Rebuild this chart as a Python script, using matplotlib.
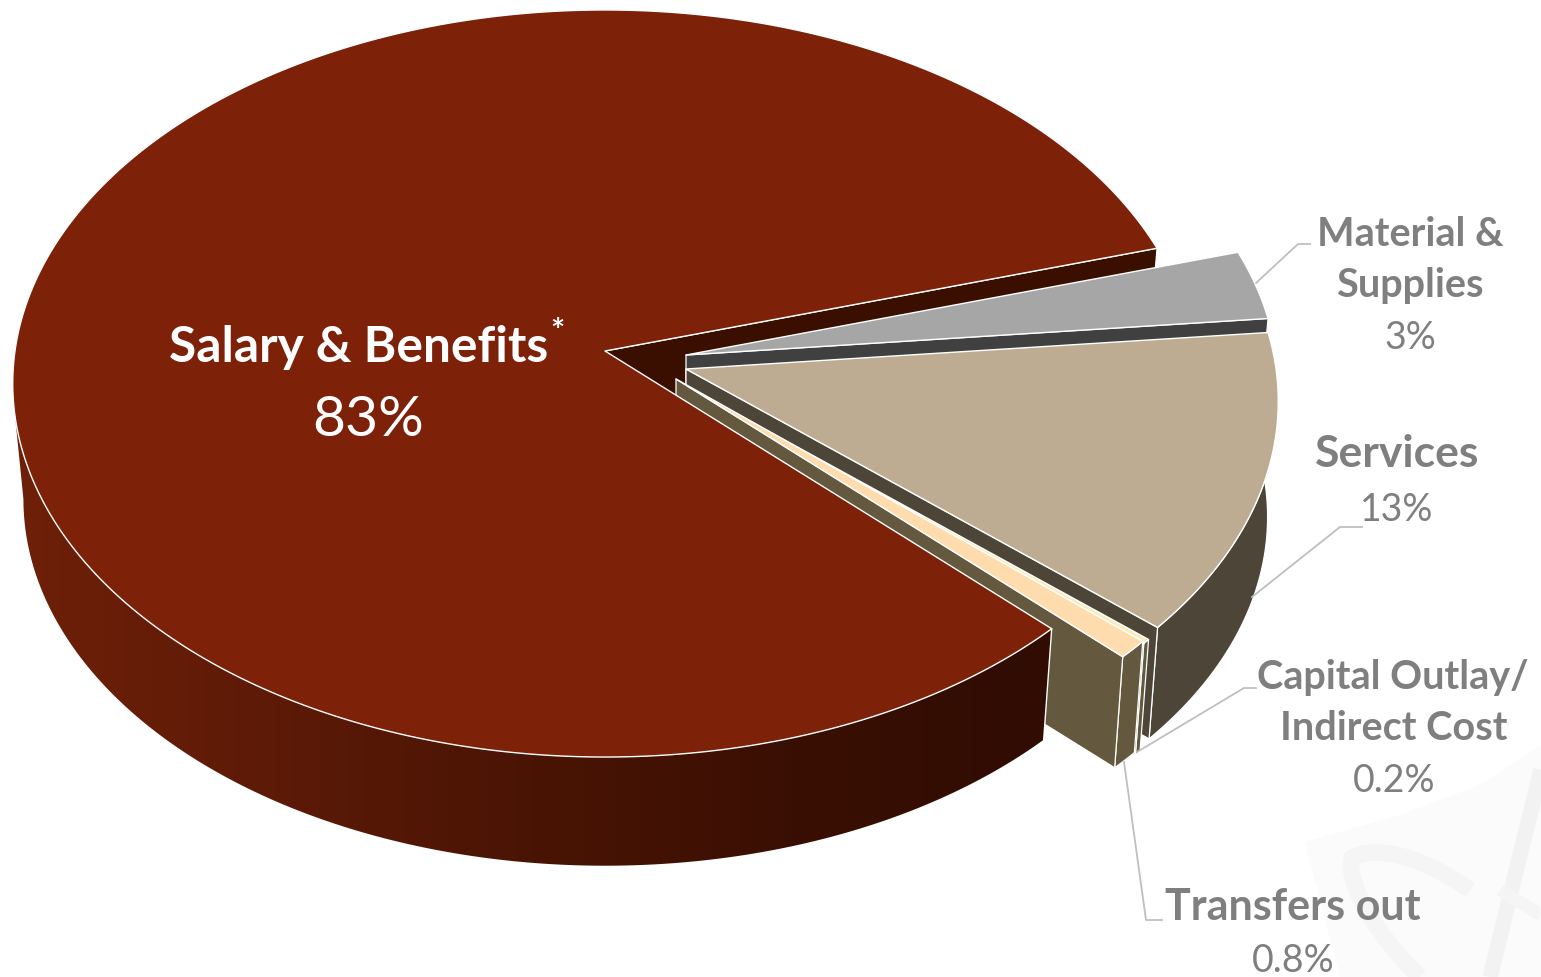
import numpy as np
import matplotlib
matplotlib.use('Agg')
import matplotlib.pyplot as plt
from matplotlib.colors import LinearSegmentedColormap
from matplotlib.patches import Polygon, PathPatch
from matplotlib.path import Path

plt.rcParams['font.family'] = ['Lato', 'DejaVu Sans']

# clockwise from the first angle
categories = ['Material & Supplies', 'Services', 'Capital Outlay/Indirect Cost', 'Transfers out', 'Salary & Benefits']
values = [3, 13, 0.2, 0.8, 83]
percent_labels = ['3%', '13%', '0.2%', '0.8%', '83%']

FIRST_ANGLE = 16.5
WX, WY, K = 590.0, 370.7, 0.087   # disc radii and perspective strength
DEPTH = 116.0
BASE_SCALE = 0.982
GREY = '#7f7f7f'
LEADER = '#bfbfbf'

# apex of every slice, the pulled out slices sit right of the big one
apex = [(686, 355), (686, 369), (677, 381), (676, 379), (605, 351)]
top_col = ['#a6a6a6', '#bdac92', '#f5eebf', '#ffdcae', '#7d2109']
wall_col = ['#404040', '#4d4538', '#5f5a40', '#64583f', '#3a0f00']


def project(ang, x0, y0, base=False):
    # point on the rim of the tilted disc, ang in degrees
    t = np.radians(ang)
    u, v = np.cos(t), np.sin(t)
    w = 1 + K * v
    s = BASE_SCALE if base else 1.0
    return x0 + s * WX * u / w, y0 + (DEPTH if base else 0) - s * WY * v / w


def arc(a0, a1, x0, y0, base=False, n=300):
    x, y = project(np.linspace(a0, a1, n), x0, y0, base)
    return np.column_stack([x, y])


def draw_slice(ax, a_start, a_end, x0, y0, top, wall):
    # a_start > a_end, slice runs clockwise
    rim = np.vstack([arc(a_start, a_end, x0, y0), arc(a_end, a_start, x0, y0, True)])
    ax.add_patch(Polygon(rim, fc=wall, ec='white', lw=0.9))
    edge = np.array([[x0, y0], project(a_end, x0, y0), project(a_end, x0, y0, True), [x0, y0 + DEPTH]])
    ax.add_patch(Polygon(edge, fc=wall, ec='white', lw=0.9, joinstyle='round'))
    surface = np.vstack([[x0, y0], arc(a_start, a_end, x0, y0)])
    ax.add_patch(Polygon(surface, fc=top, ec='white', lw=1.0, joinstyle='round'))


fig = plt.figure(figsize=(15.41, 9.77), dpi=100)
ax = fig.add_axes([0, 0, 1, 1])
ax.set_xlim(0, 1541)
ax.set_ylim(977, 0)
ax.axis('off')

# faint logo behind the labels
ax.add_patch(Polygon([(1305, 842), (1400, 815), (1480, 785), (1541, 745), (1541, 977), (1340, 977)],
                     fc='#fbfbfb', ec='none', zorder=0))
swoosh = Path([(1470, 890), (1420, 855), (1375, 845), (1352, 858), (1345, 880), (1375, 935), (1420, 977)],
              [Path.MOVETO, Path.CURVE4, Path.CURVE4, Path.CURVE4, Path.CURVE4, Path.CURVE4, Path.CURVE4])
ax.add_patch(PathPatch(swoosh, fc='none', ec='#f5f5f5', lw=12, zorder=0))
ax.plot([1541, 1490], [770, 977], color='#f2f2f2', lw=11, zorder=0, solid_capstyle='butt')
ax.plot([1500, 1541], [890, 915], color='#f5f5f5', lw=9, zorder=0, solid_capstyle='butt')

angles = FIRST_ANGLE - np.concatenate([[0], np.cumsum(values)]) * 3.6

# inner wall of the notch goes behind the pulled out slices
x0, y0 = apex[4]
notch = np.array([[x0, y0], project(FIRST_ANGLE, x0, y0), project(FIRST_ANGLE, x0, y0, True), [x0, y0 + DEPTH]])
ax.add_patch(Polygon(notch, fc=wall_col[4], ec='white', lw=0.9))

for i in range(4):
    draw_slice(ax, angles[i], angles[i + 1], apex[i][0], apex[i][1], top_col[i], wall_col[i])

# big slice: front wall with a horizontal gradient, then the top
# the two arcs start at different angles so the closing line is the left silhouette
a_first = angles[4]
front = np.vstack([arc(-170, a_first, x0, y0), arc(a_first, -175, x0, y0, True)])
wall_patch = Polygon(front, fc='none', ec='none')
ax.add_patch(wall_patch)
wall_cmap = LinearSegmentedColormap.from_list('wall', ['#6f2008', '#5c1a07', '#4a1404', '#3a0f03', '#300c02'])
grad = np.linspace(0, 1, 256).reshape(1, -1)
im = ax.imshow(grad, extent=[13, 1055, 900, 300], cmap=wall_cmap, aspect='auto',
               interpolation='bilinear', zorder=1)
im.set_clip_path(wall_patch)
ax.set_xlim(0, 1541)
ax.set_ylim(977, 0)
corner = np.array([project(a_first, x0, y0), project(a_first, x0, y0, True)])
ax.plot(corner[:, 0], corner[:, 1], color='white', lw=1.0)

surface = np.vstack([[x0, y0], arc(a_first, angles[5], x0, y0, n=900)])
ax.add_patch(Polygon(surface, fc=top_col[4], ec='white', lw=1.0, joinstyle='round'))

# leader lines
ax.plot([1256, 1298, 1310], [283, 244, 244], color=LEADER, lw=1.3)
ax.plot([1252, 1340, 1362], [597, 527, 527], color=LEADER, lw=1.3)
ax.plot([1137, 1244, 1256], [752, 688, 688], color=LEADER, lw=1.3)
ax.plot([1124, 1146, 1162], [762, 920, 920], color=LEADER, lw=1.3)

# labels
bold = dict(ha='center', va='center', color=GREY, fontweight='bold', fontsize=28.5)
plain = dict(ha='center', va='center', color=GREY, fontsize=27)
ax.text(1410, 234, 'Material &', **bold)
ax.text(1410, 286, 'Supplies', **bold)
ax.text(1410, 338, percent_labels[0], **plain)
ax.text(1397, 454, categories[1], fontweight='bold', fontsize=32, ha='center', va='center', color=GREY)
ax.text(1397, 510, percent_labels[1], **plain)
ax.text(1393, 677, 'Capital Outlay/', **bold)
ax.text(1394, 729, 'Indirect Cost', **bold)
ax.text(1394, 781, percent_labels[2], **plain)
ax.text(1293, 907, categories[3], fontweight='bold', fontsize=31, ha='center', va='center', color=GREY)
ax.text(1293, 961, percent_labels[3], **plain)

ax.text(359, 347, categories[4], ha='center', va='center', color='white', fontweight='bold', fontsize=35.7)
ax.text(557, 332, '*', ha='center', va='center', color='white', fontweight='bold', fontsize=24)
ax.text(368, 420, percent_labels[4], ha='center', va='center', color='white', fontsize=41)

fig.savefig('out.png', dpi=100)
